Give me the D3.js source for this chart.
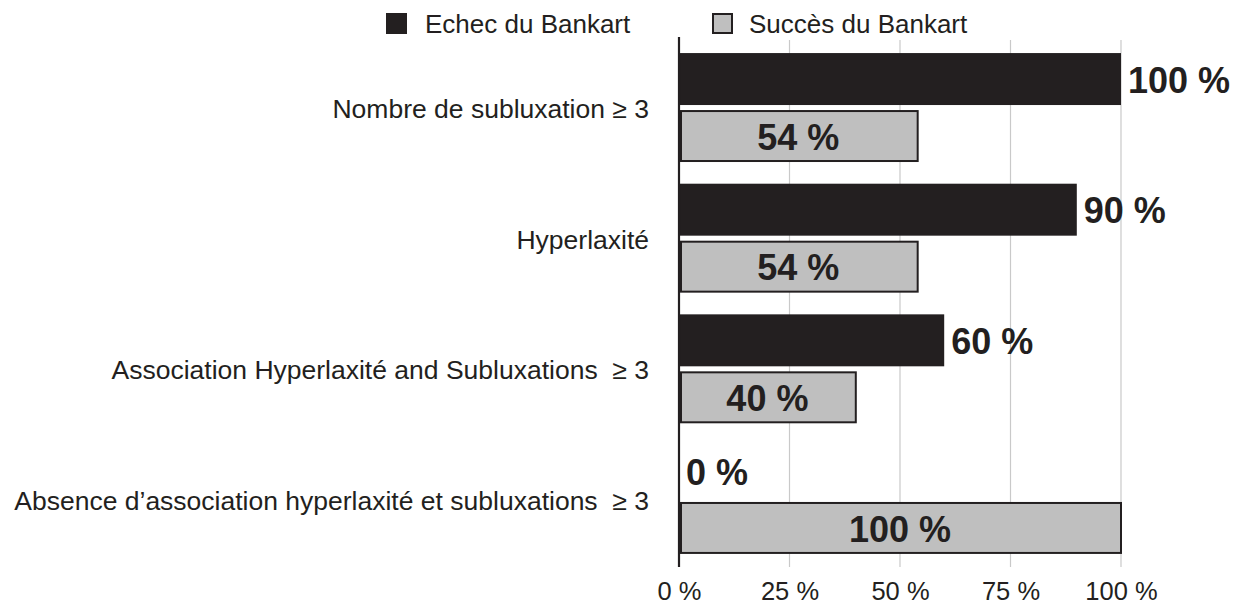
<!DOCTYPE html>
<html>
<head>
<meta charset="utf-8">
<script src="https://cdn.jsdelivr.net/npm/d3@7"></script>
<style>
  body { margin: 0; background: #fff; }
  text { font-family: "Liberation Sans", Arial, Helvetica, sans-serif; fill: #231f20; }
</style>
</head>
<body>
<div id="chart-area"></div>
<script>
const categories = [
    "Nombre de subluxation \u2265 3",
    "Hyperlaxit\u00e9",
    "Association Hyperlaxit\u00e9 and Subluxations \u00a0\u2265 3",
    "Absence d\u2019association hyperlaxit\u00e9 et subluxations \u00a0\u2265 3"
];
const echec = [100, 90, 60, 0];
const succes = [54, 54, 40, 100];
const seriesNames = ["Echec du Bankart", "Succ\u00e8s du Bankart"];
const xTicks = [0, 25, 50, 75, 100];

const width = 1247, height = 606;
const ink = "#231f20";
const grey = "#bfbfbf";

const svg = d3.select("#chart-area")
    .append("svg")
    .attr("width", width)
    .attr("height", height);

const x = d3.scaleLinear()
    .domain([0, 100])
    .range([679, 1121]);

const y = d3.scaleBand()
    .domain(categories)
    .range([40, 567])
    .paddingInner(0.166)
    .paddingOuter(0.1);

const sub = d3.scaleBand()
    .domain(["echec", "succes"])
    .range([0, y.bandwidth()])
    .paddingInner(0.088);

const data = categories.map((c, i) => ({ cat: c, echec: echec[i], succes: succes[i] }));

// gridlines
svg.append("g")
    .selectAll("line")
    .data(xTicks.slice(1))
    .join("line")
    .attr("x1", d => x(d)).attr("x2", d => x(d))
    .attr("y1", 40).attr("y2", 567)
    .attr("stroke", "#c9c9c9")
    .attr("stroke-width", 1.2);

// bottom axis labels
const xAxis = d3.axisBottom(x)
    .tickValues(xTicks)
    .tickSize(0)
    .tickPadding(0)
    .tickFormat(d => d + " %");
svg.append("g")
    .attr("transform", "translate(0, 581)")
    .call(xAxis)
    .call(g => g.select(".domain").remove())
    .selectAll("text")
    .attr("font-size", "25.5px")
    .attr("dy", "0.76em")
    .attr("fill", ink);

// black bars
svg.append("g")
    .selectAll("rect")
    .data(data)
    .join("rect")
    .attr("x", x(0))
    .attr("y", d => y(d.cat) + sub("echec"))
    .attr("width", d => x(d.echec) - x(0))
    .attr("height", sub.bandwidth())
    .attr("fill", ink);

// grey bars
svg.append("g")
    .selectAll("rect")
    .data(data)
    .join("rect")
    .attr("x", x(0) + 2)
    .attr("y", d => y(d.cat) + sub("succes") + 1)
    .attr("width", d => x(d.succes) - x(0) - 2)
    .attr("height", sub.bandwidth() - 2)
    .attr("fill", grey)
    .attr("stroke", ink)
    .attr("stroke-width", 2);

// y axis line
svg.append("line")
    .attr("x1", x(0)).attr("x2", x(0))
    .attr("y1", 37).attr("y2", 567)
    .attr("stroke", ink)
    .attr("stroke-width", 2.2);

// category labels
svg.append("g")
    .selectAll("text")
    .data(data)
    .join("text")
    .attr("x", 649)
    .attr("y", d => y(d.cat) + y.bandwidth() / 2)
    .attr("dy", "0.4em")
    .attr("text-anchor", "end")
    .attr("font-size", "26.5px")
    .text(d => d.cat);

// value labels
svg.append("g")
    .selectAll("text")
    .data(data)
    .join("text")
    .attr("x", d => x(d.echec) + 7)
    .attr("y", d => y(d.cat) + sub("echec") + sub.bandwidth() / 2)
    .attr("dy", "0.38em")
    .attr("font-size", "36px")
    .attr("font-weight", "bold")
    .text(d => d.echec + " %");

svg.append("g")
    .selectAll("text")
    .data(data)
    .join("text")
    .attr("x", d => (x(0) + x(d.succes)) / 2)
    .attr("y", d => y(d.cat) + sub("succes") + sub.bandwidth() / 2)
    .attr("dy", "0.38em")
    .attr("text-anchor", "middle")
    .attr("font-size", "36px")
    .attr("font-weight", "bold")
    .text(d => d.succes + " %");

// legend
const legend = svg.append("g");
const legX = [386, 712];
legend.selectAll("rect")
    .data(seriesNames)
    .join("rect")
    .attr("x", (d, i) => legX[i] + (i ? 1 : 0))
    .attr("y", (d, i) => 13 + (i ? 1 : 0))
    .attr("width", (d, i) => i ? 19 : 21)
    .attr("height", (d, i) => i ? 19 : 21)
    .attr("fill", (d, i) => i ? grey : ink)
    .attr("stroke", (d, i) => i ? ink : "none")
    .attr("stroke-width", 2);
legend.selectAll("text")
    .data(seriesNames)
    .join("text")
    .attr("x", (d, i) => legX[i] + (i ? 37 : 39))
    .attr("y", 33)
    .attr("font-size", "26px")
    .text(d => d);
</script>
</body>
</html>
